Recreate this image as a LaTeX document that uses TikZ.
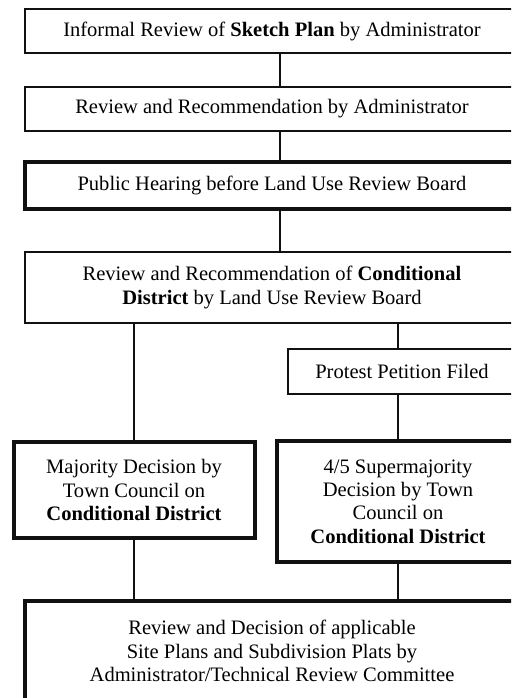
\documentclass[tikz,border=0pt]{standalone}
\usepackage{fontspec}
\setmainfont{Liberation Serif}
\usetikzlibrary{positioning,calc}
\definecolor{Ink}{HTML}{111111}

\tikzset{
  stage/.style={draw=Ink,line width=1.1pt,align=center,inner sep=0pt,
    font=\fontsize{15.4}{17.4}\selectfont},
  keystage/.style={stage,line width=3pt},
  link/.style={draw=Ink,line width=1.1pt}
}

\begin{document}
\begin{tikzpicture}[x=0.75pt,y=-0.75pt]
\useasboundingbox (0,0) rectangle (511,698);
\clip (0,0) rectangle (511,698);
% stages
\node[stage,minimum width=370.5pt,minimum height=33pt] (sketch) at (272,31) {Informal Review of \textbf{Sketch Plan} by Administrator};
\node[stage,minimum width=370.5pt,minimum height=33pt] (admin) at (272,109) {Review and Recommendation by Administrator};
\node[keystage,minimum width=370.5pt,minimum height=35.25pt] (hearing) at (272,185.5) {Public Hearing before Land Use Review Board};
\node[stage,minimum width=370.5pt,minimum height=53.25pt] (board) at (272,287.5) {Review and Recommendation of \textbf{Conditional}\\\textbf{District} by Land Use Review Board};
\node[stage,minimum width=171pt,minimum height=33.75pt] (protest) at (402,371.5) {Protest Petition Filed};
\node[keystage,minimum width=180.75pt,minimum height=72pt] (majority) at (134,490) {Majority Decision by\\Town Council on\\\textbf{Conditional District}};
\node[keystage,minimum width=181.5pt,minimum height=90.75pt] (super) at (398,501.5) {4/5 Supermajority\\Decision by Town\\Council on\\\textbf{Conditional District}};
\node[keystage,minimum width=370.5pt,minimum height=75pt] (plats) at (272,651) {Review and Decision of applicable\\Site Plans and Subdivision Plats by\\Administrator/Technical Review Committee};
% links
\draw[link] ([xshift=6]sketch.south) -- ([xshift=6]sketch.south |- admin.north);
\draw[link] ([xshift=6]admin.south) -- ([xshift=6]admin.south |- hearing.north);
\draw[link] ([xshift=6]hearing.south) -- ([xshift=6]hearing.south |- board.north);
\draw[link] (majority.north) -- (majority.north |- board.south);
\draw[link] (super.north |- board.south) -- (super.north |- protest.north);
\draw[link] (super.north |- protest.south) -- (super.north);
\draw[link] (majority.south) -- (majority.south |- plats.north);
\draw[link] (super.south) -- (super.south |- plats.north);
\end{tikzpicture}
\end{document}
